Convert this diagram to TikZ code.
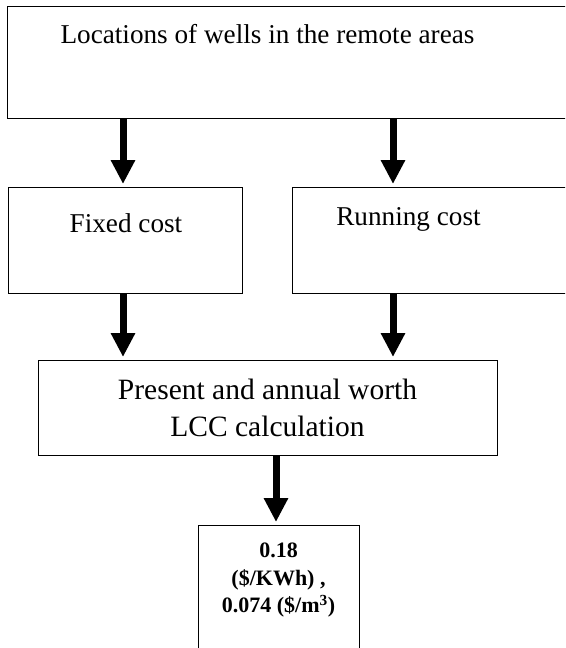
\documentclass[tikz,border=0pt]{standalone}
\usepackage{fontspec}
\setmainfont{Liberation Serif}
\usetikzlibrary{calc,arrows.meta}
\tikzstyle{every picture}=[x=1pt,y=-1pt]
\tikzstyle{fat}=[-{Triangle[width=23pt,length=24pt]}, line width=7pt, shorten >=3pt]

\begin{document}
\begin{tikzpicture}
{
\clip (0,0) rectangle (565,648);
\begin{scope}[every node/.style={rectangle,draw,line width=1.4pt,inner sep=0pt,anchor=north west}]

    \node[minimum width=570pt, minimum height=112pt](wells) at (7,6) {};
    \node[minimum width=234pt, minimum height=106pt](fixed) at (8,187) {};
    \node[minimum width=280pt, minimum height=106pt](running) at (292,187) {};
    \node[minimum width=459pt, minimum height=95pt](present) at (38,360) {};
    \node[minimum width=161pt, minimum height=130pt](result) at (198,525) {};
\end{scope}
\begin{scope}[every node/.style={inner sep=0pt,font=\fontsize{27.2}{31}\selectfont}]

    \node[anchor=base](twells) at (267.5,43) {Locations of wells in the remote areas};
    \node[anchor=base](tfixed) at (126,232) {Fixed cost};
    \node[anchor=base](trunning) at (408.5,225) {Running cost};
    \node[anchor=north, align=center, font=\fontsize{29.5}{37}\selectfont](tpresent) at (267.5,379) {Present and annual worth\\LCC calculation};
    \node[anchor=north, align=center, font=\bfseries\fontsize{22}{27.5}\selectfont](tresult) at (278.5,543) {0.18\\(\$/KWh) ,\\0.074 (\$/m\textsuperscript{3})};
\end{scope}

\coordinate (lx) at (123,0);
\coordinate (rx) at (393,0);
\coordinate (mx) at (276,0);

\draw[fat] (wells.south -| lx) -- (fixed.north -| lx);
\draw[fat] (wells.south -| rx) -- (running.north -| rx);
\draw[fat] (fixed.south -| lx) -- (present.north -| lx);
\draw[fat] (running.south -| rx) -- (present.north -| rx);
\draw[fat] (present.south -| mx) -- (result.north -| mx);
}
\end{tikzpicture}
\end{document}
